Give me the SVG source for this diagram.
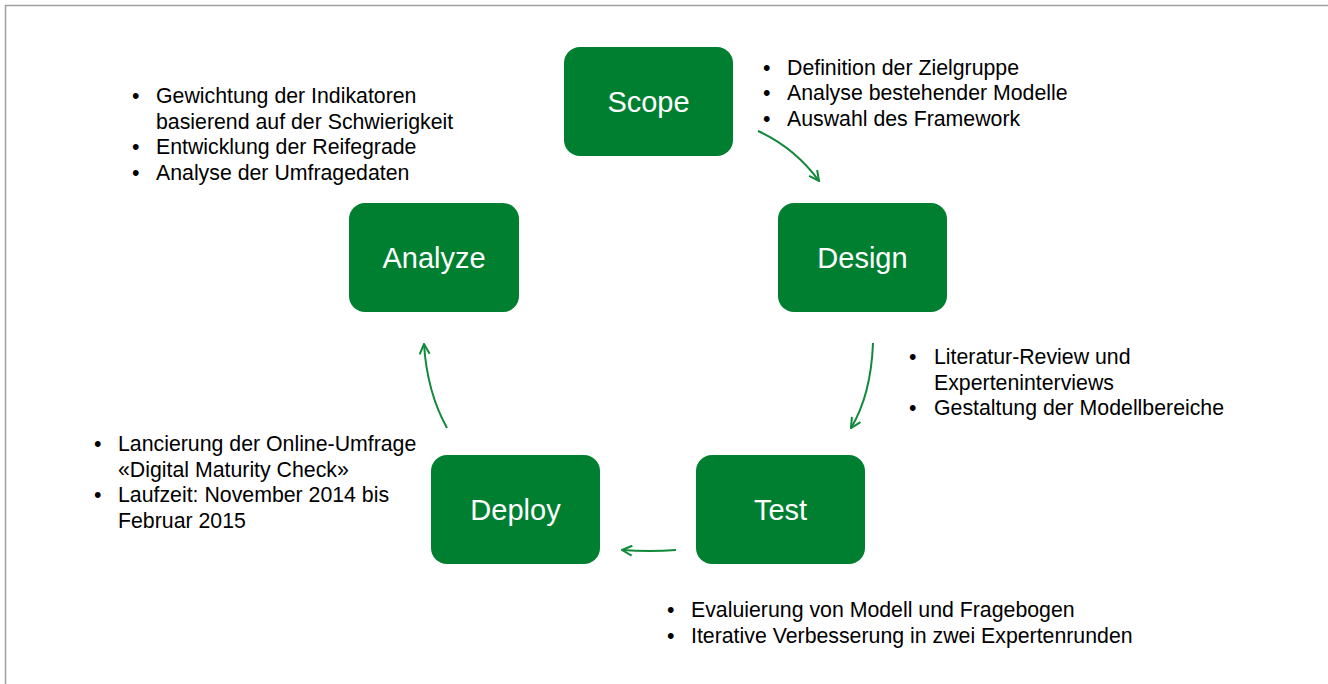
<svg xmlns="http://www.w3.org/2000/svg" width="1328" height="684" viewBox="0 0 1328 684">
<defs>
<style>
.box{fill:#007f31;}
.lbl{font-family:"Liberation Sans",Arial,sans-serif;font-size:29px;fill:#ffffff;text-anchor:middle;}
.txt{font-family:"Liberation Sans",Arial,sans-serif;font-size:21.3px;fill:#000000;}
.con{fill:none;stroke:#108a3a;stroke-width:2;marker-end:url(#ah);}
</style>
<marker id="ah" viewBox="0 0 12 12" refX="11" refY="6" markerWidth="12" markerHeight="12" markerUnits="userSpaceOnUse" orient="auto">
<path d="M1,1 L11,6 L1,11" fill="none" stroke="#108a3a" stroke-width="2"/>
</marker>
</defs>
<rect x="0" y="0" width="1328" height="684" fill="#ffffff"/>
<path d="M5.5,684 L5.5,5.5 L1328,5.5" fill="none" stroke="#a0a0a0" stroke-width="1.5"/>

<g id="connectors">
<path class="con" d="M758,131 Q795,148 819,181"/>
<path class="con" d="M873,343 Q871,395 851,428"/>
<path class="con" d="M676,550 Q650,552 622,550"/>
<path class="con" d="M447,428 Q427,392 424,344"/>
</g>

<g id="scope">
<rect class="box" x="564" y="47" width="169" height="109" rx="16"/>
<text class="lbl" x="648.5" y="111.5">Scope</text>
</g>
<g id="design">
<rect class="box" x="778" y="203" width="169" height="109" rx="16"/>
<text class="lbl" x="862.5" y="267.5">Design</text>
</g>
<g id="analyze">
<rect class="box" x="349" y="203" width="170" height="109" rx="16"/>
<text class="lbl" x="434" y="267.5">Analyze</text>
</g>
<g id="test">
<rect class="box" x="696" y="455" width="169" height="109" rx="16"/>
<text class="lbl" x="780.5" y="519.5">Test</text>
</g>
<g id="deploy">
<rect class="box" x="431" y="455" width="169" height="109" rx="16"/>
<text class="lbl" x="515.5" y="519.5">Deploy</text>
</g>

<g id="notes-scope" class="txt">
<text x="763" y="74.5">•</text><text x="787" y="74.5">Definition der Zielgruppe</text>
<text x="763" y="100">•</text><text x="787" y="100">Analyse bestehender Modelle</text>
<text x="763" y="125.5">•</text><text x="787" y="125.5">Auswahl des Framework</text>
</g>
<g id="notes-analyze" class="txt">
<text x="132" y="103">•</text><text x="156" y="103">Gewichtung der Indikatoren</text>
<text x="156" y="128.5">basierend auf der Schwierigkeit</text>
<text x="132" y="154">•</text><text x="156" y="154">Entwicklung der Reifegrade</text>
<text x="132" y="179.5">•</text><text x="156" y="179.5">Analyse der Umfragedaten</text>
</g>
<g id="notes-design" class="txt">
<text x="909" y="364">•</text><text x="934" y="364">Literatur-Review und</text>
<text x="934" y="389.5">Experteninterviews</text>
<text x="909" y="415">•</text><text x="934" y="415">Gestaltung der Modellbereiche</text>
</g>
<g id="notes-deploy" class="txt">
<text x="94" y="451">•</text><text x="118" y="451">Lancierung der Online-Umfrage</text>
<text x="118" y="476.5">«Digital Maturity Check»</text>
<text x="94" y="502">•</text><text x="118" y="502">Laufzeit: November 2014 bis</text>
<text x="118" y="527.5">Februar 2015</text>
</g>
<g id="notes-test" class="txt">
<text x="667" y="617">•</text><text x="691" y="617">Evaluierung von Modell und Fragebogen</text>
<text x="667" y="642.5">•</text><text x="691" y="642.5">Iterative Verbesserung in zwei Expertenrunden</text>
</g>
</svg>
